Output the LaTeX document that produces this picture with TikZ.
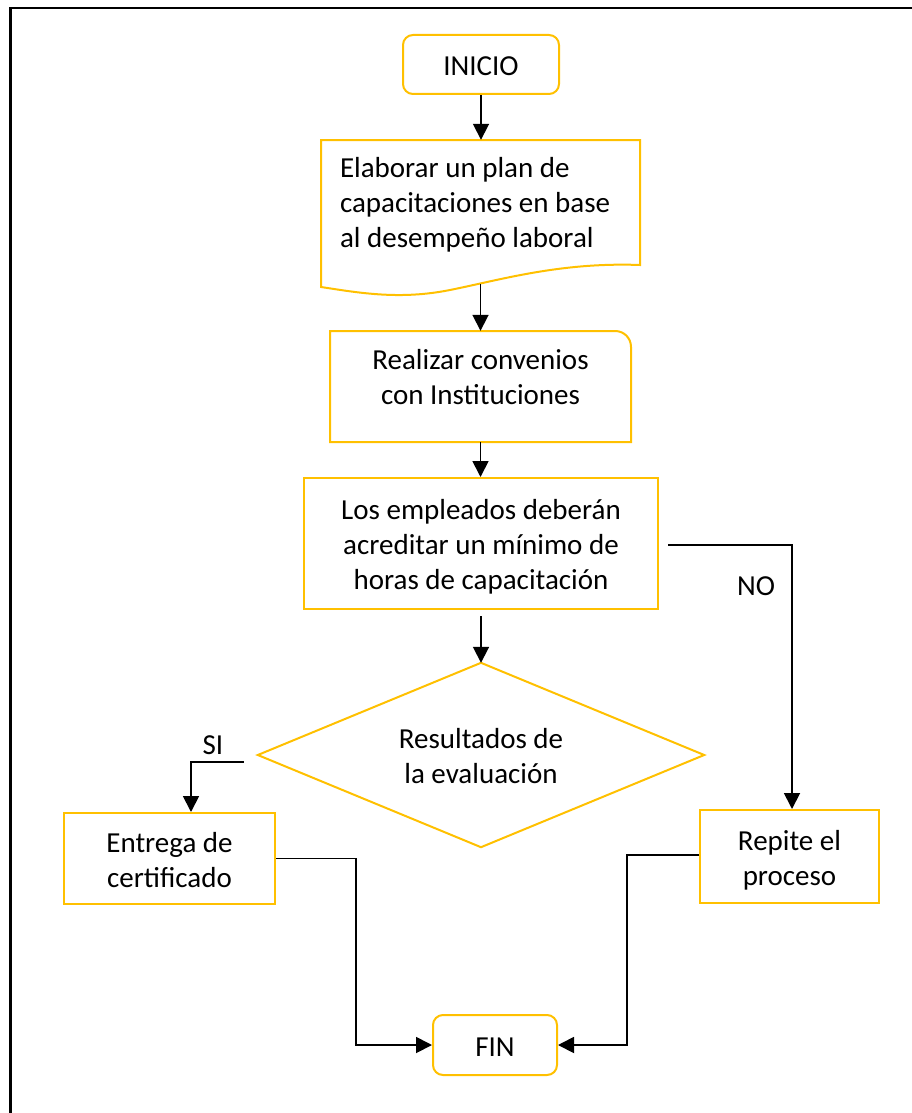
\documentclass[tikz,border=0pt]{standalone}
\usepackage{fontspec}
\setmainfont{Carlito}
\usetikzlibrary{arrows.meta}
\definecolor{gold}{HTML}{FFC000}
\newcommand\fnt{\fontsize{29}{35}\selectfont}
\newcommand\up[2]{\raisebox{#1}[\height][\depth]{#2}}
\newcommand\tbx[2][c]{\begin{tabular}{@{}#1@{}}#2\end{tabular}}
\newcommand\tb[1]{\up{-4pt}{\tbx{#1}}}
\begin{document}
\begin{tikzpicture}[x=1pt,y=-1pt,
  box/.style={draw=gold, line width=2pt, rectangle, inner sep=0pt, align=center, font=\fnt},
  term/.style={box, rounded corners=10pt},
  plain/.style={inner sep=0pt, font=\fnt},
  outline/.style={draw=gold, line width=2pt, line join=miter},
  conn/.style={line width=1.8pt, -{Triangle[width=16pt,length=16pt]}},
]
\useasboundingbox (0,0) rectangle (911,1113);
% frame
\draw[line width=2.5pt] (10.5,1120) -- (10.5,8) -- (920,8);

% nodes
\node[term, minimum width=156pt, minimum height=59pt] (ini) at (481,64.5) {\up{-2pt}{INICIO}};

\node[plain, minimum width=319pt, minimum height=144pt] (plan) at (480.5,212)
  {\up{7pt}{\makebox[281pt][l]{\tbx[l]{Elaborar un plan de\\capacitaciones en base\\al desempeño laboral}}}};
\draw[outline] (321,140) -- (640,140) -- (640,265)
  .. controls (560,262) and (500,280) .. (450,290)
  .. controls (400,300) and (360,293) .. (321,287) -- cycle;

\node[plain, minimum width=301pt, minimum height=111pt] (conv) at (480.5,386.5)
  {\up{7pt}{\tbx{Realizar convenios\\con Instituciones}}};
\draw[outline] (330,442) -- (330,331) -- (615,331)
  .. controls (624,331) and (631,338) .. (631,347) -- (631,442) -- cycle;

\node[box, minimum width=354pt, minimum height=131pt] (b4) at (481,543.5)
  {\tb{Los empleados deberán\\acreditar un mínimo de\\horas de capacitación}};

\node[plain, minimum width=446pt, minimum height=184pt] (dia) at (481,755)
  {\tb{Resultados de\\la evaluación}};
\draw[outline] (dia.north) -- (dia.east) -- (dia.south) -- (dia.west) -- cycle;

\node[box, minimum width=211pt, minimum height=91pt] (ent) at (169.5,858.5)
  {\tb{Entrega de\\certificado}};
\node[box, minimum width=179pt, minimum height=93pt] (rep) at (789.5,856.5)
  {\tb{Repite el\\proceso}};
\node[term, minimum width=124pt, minimum height=60pt] (fin) at (495,1045) {\up{-2pt}{FIN}};

\node[plain] (si) at (213,745) {SI};
\node[plain] (no) at (756,586) {NO};

% connectors
\draw[conn] (ini.south) -- (ini.south |- plan.north);
\draw[conn] (plan.south) -- (plan.south |- conv.north);
\draw[conn] (conv.south) -- (conv.south |- b4.north);
\draw[conn] ([yshift=-6pt]b4.south) -- (dia.north);
\draw[conn] ([xshift=-14pt,yshift=-7pt]dia.west) -| ([xshift=21.5pt]ent.north);
\draw[conn] ([xshift=9pt,yshift=-1.5pt]b4.east) -| ([xshift=2.5pt]rep.north);
\draw[conn] (ent.east) -- ++(80,0) |- (fin.west);
\draw[conn] ([yshift=1.5pt]rep.west) -- ++(-72,0) |- (fin.east);
\end{tikzpicture}
\end{document}
